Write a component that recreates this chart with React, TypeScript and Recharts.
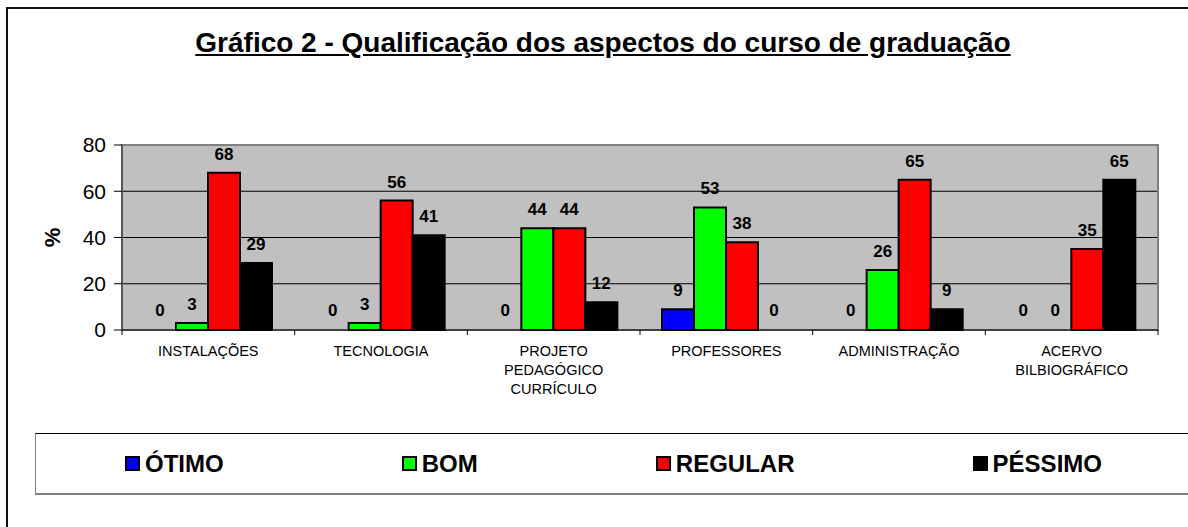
import {
  Bar,
  BarChart,
  CartesianGrid,
  LabelList,
  Legend,
  Rectangle,
  ReferenceArea,
  XAxis,
  YAxis,
} from "recharts";

const categories = [
  "INSTALAÇÕES",
  "TECNOLOGIA",
  "PROJETO\nPEDAGÓGICO\nCURRÍCULO",
  "PROFESSORES",
  "ADMINISTRAÇÃO",
  "ACERVO\nBILBIOGRÁFICO",
];
const otimo = [0, 0, 0, 9, 0, 0];
const bom = [3, 3, 44, 53, 26, 0];
const regular = [68, 56, 44, 38, 65, 35];
const pessimo = [29, 41, 12, 0, 9, 65];
const yTicks = [0, 20, 40, 60, 80];

const series = [
  { key: "ÓTIMO", fill: "#0000FF" },
  { key: "BOM", fill: "#00FF00" },
  { key: "REGULAR", fill: "#FF0000" },
  { key: "PÉSSIMO", fill: "#000000" },
];

const rows = categories.map((c, i) => ({
  cat: c,
  "ÓTIMO": otimo[i],
  BOM: bom[i],
  REGULAR: regular[i],
  "PÉSSIMO": pessimo[i],
}));

const FONT = "Arial, 'Liberation Sans', sans-serif";

function CategoryTick(props: any) {
  const { x, y, payload } = props;
  const half = payload.offset ?? 0;
  const lines = String(payload.value).split("\n");
  const isLast = payload.value === categories[categories.length - 1];
  return (
    <g>
      <line x1={x - half} y1={y} x2={x - half} y2={y + 5} stroke="#000" />
      {isLast && <line x1={x + half} y1={y} x2={x + half} y2={y + 5} stroke="#000" />}
      <text x={x} y={y + 26} textAnchor="middle" fontSize={14.5} fontFamily={FONT} fill="#000">
        {lines.map((l, i) => (
          <tspan key={i} x={x} dy={i === 0 ? 0 : 19}>
            {l}
          </tspan>
        ))}
      </text>
    </g>
  );
}

function PercentLabel(props: any) {
  const vb = props.viewBox;
  const cx = vb.x + 10;
  const cy = vb.y + vb.height / 2;
  return (
    <text
      x={cx}
      y={cy}
      transform={`rotate(-90, ${cx}, ${cy})`}
      textAnchor="middle"
      dominantBaseline="central"
      fontSize={22}
      fontWeight="bold"
      fontFamily={FONT}
      fill="#000"
    >
      %
    </text>
  );
}

function LegendBox() {
  return (
    <div
      style={{
        boxSizing: "border-box",
        height: 62,
        borderTop: "1px solid #000",
        borderLeft: "1px solid #808080",
        borderBottom: "2px solid #808080",
        display: "flex",
        justifyContent: "space-around",
        alignItems: "center",
        fontFamily: FONT,
      }}
    >
      {series.map((s) => (
        <div key={s.key} style={{ display: "flex", alignItems: "center" }}>
          <span
            style={{
              boxSizing: "border-box",
              width: 15,
              height: 15,
              border: "2px solid #000",
              background: s.fill,
              marginRight: 5,
            }}
          />
          <span style={{ fontSize: 24, fontWeight: "bold", color: "#000" }}>{s.key}</span>
        </div>
      ))}
    </div>
  );
}

export default function App() {
  return (
    <div
      style={{
        position: "absolute",
        left: 6,
        top: 7,
        width: 1220,
        height: 560,
        border: "2px solid #111",
        background: "#fff",
        boxSizing: "border-box",
      }}
    >
      <div
        style={{
          position: "absolute",
          left: 0,
          top: 20,
          width: 1190,
          textAlign: "center",
          fontFamily: FONT,
          fontSize: 28,
          lineHeight: "28px",
          fontWeight: "bold",
          textDecoration: "underline",
          color: "#000",
        }}
      >
        Gráfico 2 - Qualificação dos aspectos do curso de graduação
      </div>
      <div style={{ position: "absolute", left: 0, top: 0 }}>
        <BarChart
          width={1180}
          height={515}
          data={rows}
          margin={{ top: 136, right: 30, left: 34, bottom: 134 }}
          barCategoryGap={22}
          barGap={0}
        >
          <CartesianGrid vertical={false} stroke="#000" fill="#C0C0C0" fillOpacity={1} />
          <ReferenceArea y1={0} y2={80} fill="none" stroke="#808080" strokeWidth={2} ifOverflow="extendDomain" />
          <XAxis
            dataKey="cat"
            interval={0}
            tickLine={false}
            tickSize={0}
            tickMargin={0}
            axisLine={{ stroke: "#000" }}
            height={60}
            tick={<CategoryTick />}
          />
          <YAxis
            domain={[0, 80]}
            ticks={yTicks}
            width={80}
            tickSize={8}
            tickMargin={8}
            axisLine={{ stroke: "#333" }}
            tickLine={{ stroke: "#000" }}
            tick={{ fontSize: 21, fontFamily: FONT, fill: "#000" }}
            label={<PercentLabel />}
          />
          <Legend
            layout="horizontal"
            verticalAlign="middle"
            align="center"
            wrapperStyle={{ left: 27, top: 424, width: 1156, height: 62 }}
            content={<LegendBox />}
          />
          {series.map((s) => (
            <Bar
              key={s.key}
              dataKey={s.key}
              fill={s.fill}
              stroke="#000"
              strokeWidth={2}
              minPointSize={1}
              isAnimationActive={false}
              shape={(p: any) => (p.payload[s.key] === 0 ? <g /> : <Rectangle {...p} />)}
            >
              <LabelList
                dataKey={s.key}
                position="top"
                offset={13}
                style={{ fontSize: 17, fontWeight: "bold", fontFamily: FONT, fill: "#000" }}
              />
            </Bar>
          ))}
        </BarChart>
      </div>
    </div>
  );
}
